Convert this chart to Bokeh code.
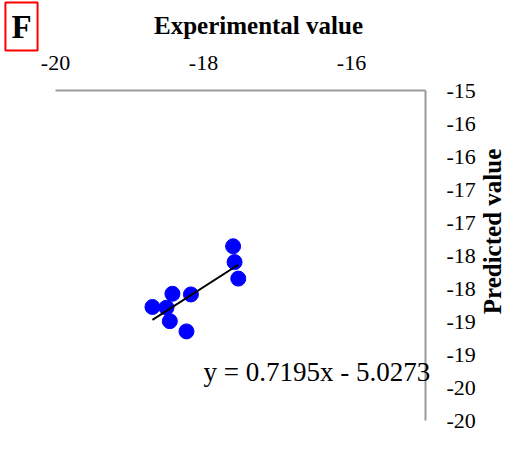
import math
from bokeh.plotting import figure
from bokeh.models import Range1d, FixedTicker, CustomJSTickFormatter, Label, ColumnDataSource
from bokeh.embed import file_html
from bokeh.resources import INLINE

# ---- data ----
experimental = [-17.60, -17.58, -17.53, -18.17, -18.42, -18.69, -18.50, -18.455, -18.23]
predicted = [-17.36, -17.60, -17.85, -18.09, -18.08, -18.28, -18.29, -18.495, -18.65]
slope = 0.7195
intercept = -5.0273
x_bounds = (-20, -15)
y_bounds = (-20, -15)
x_ticks = [-20, -18, -16]
y_ticks = [-20, -19.5, -19, -18.5, -18, -17.5, -17, -16.5, -16, -15.5, -15]
x_title = "Experimental value"
y_title = "Predicted value"
panel_tag = "F"
equation = "y = 0.7195x - 5.0273"

SERIF = "Liberation Serif"
W, H = 513, 443
# pixel geometry of the axes box (canvas coords)
AX_L, AX_R, AX_T, AX_B = 55, 425, 90, 420
xs = (AX_R - AX_L) / (x_bounds[1] - x_bounds[0])
ys = (AX_B - AX_T) / (y_bounds[1] - y_bounds[0])
x_range = Range1d(x_bounds[0] - AX_L / xs, x_bounds[1] + (W - AX_R) / xs)
y_range = Range1d(y_bounds[0] - (H - AX_B) / ys, y_bounds[1] + AX_T / ys)

p = figure(width=W, height=H, output_backend="svg", toolbar_location=None,
           x_range=x_range, y_range=y_range,
           x_axis_location="above", y_axis_location="right",
           min_border=0)
p.outline_line_color = None
p.grid.visible = False
p.background_fill_color = "white"
p.border_fill_color = "white"

fmt = CustomJSTickFormatter(code="""
const r = Math.round(Math.abs(tick));
return (tick < 0 && r != 0 ? '-' : '') + r;
""")

xa = p.xaxis[0]
xa.ticker = FixedTicker(ticks=x_ticks)
xa.formatter = fmt
xa.bounds = x_bounds
xa.fixed_location = y_bounds[1]
ya = p.yaxis[0]
ya.ticker = FixedTicker(ticks=y_ticks)
ya.formatter = fmt
ya.bounds = y_bounds
ya.fixed_location = x_bounds[1]
for ax in (xa, ya):
    ax.axis_line_color = "#9a9a9a"
    ax.axis_line_width = 2
    ax.major_tick_line_color = None
    ax.minor_tick_line_color = None
    ax.major_tick_out = 0
    ax.major_tick_in = 0
    ax.major_label_text_font = SERIF
    ax.major_label_text_font_size = "22px"
    ax.major_label_text_color = "black"
xa.major_label_standoff = 21
ya.major_label_standoff = 21

src = ColumnDataSource(dict(x=experimental, y=predicted))
p.scatter("x", "y", source=src, size=15, color="#0000ff", line_color="#0000ff")

x0, x1 = min(experimental), max(experimental)
p.line([x0, x1], [slope * x0 + intercept, slope * x1 + intercept], line_color="black", line_width=2)

def sy(py):
    return H - py

p.add_layout(Label(x=258, y=sy(25), x_units="screen", y_units="screen", text=x_title,
                   text_font=SERIF, text_font_style="bold", text_font_size="25px",
                   text_align="center", text_baseline="middle", text_color="black"))
p.add_layout(Label(x=492, y=sy(231), x_units="screen", y_units="screen", text=y_title,
                   angle=math.pi / 2,
                   text_font=SERIF, text_font_style="bold", text_font_size="25px",
                   text_align="center", text_baseline="middle", text_color="black"))
p.add_layout(Label(x=203, y=sy(371), x_units="screen", y_units="screen", text=equation,
                   text_font=SERIF, text_font_size="27px",
                   text_align="left", text_baseline="middle", text_color="black"))
p.add_layout(Label(x=21, y=sy(26), x_units="screen", y_units="screen", text=panel_tag,
                   text_font=SERIF, text_font_style="bold", text_font_size="33px",
                   text_align="center", text_baseline="middle", text_color="black",
                   border_line_color="red", border_line_width=2, padding=6))

open("out.html", "w").write(file_html(p, INLINE))
